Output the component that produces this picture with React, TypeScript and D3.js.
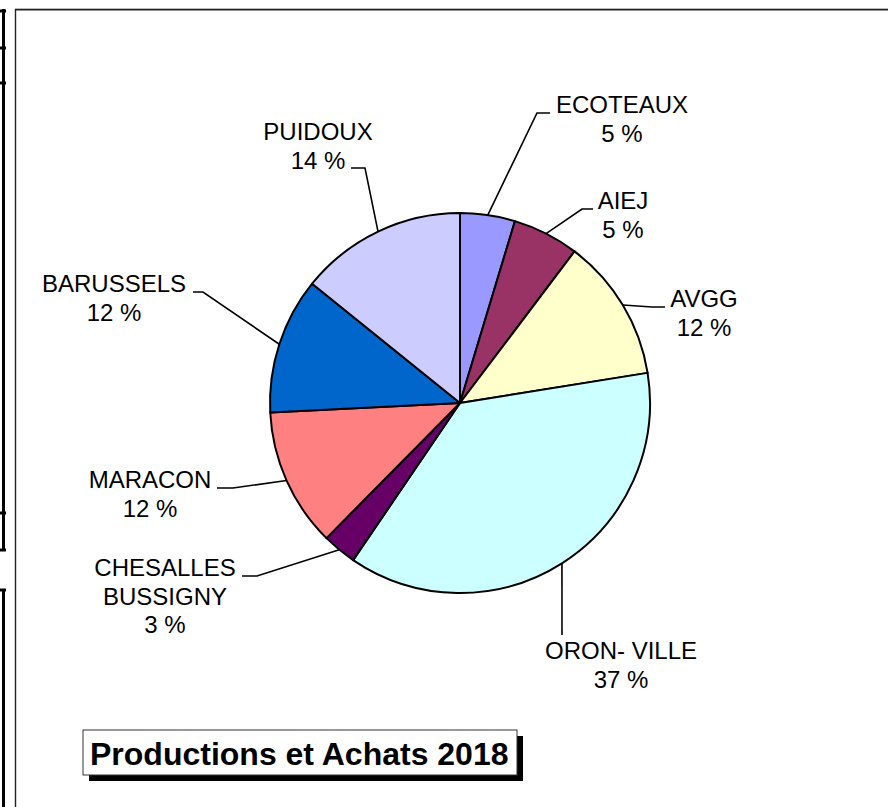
import React from "react";
import * as d3 from "d3";

const categories = ["ECOTEAUX", "AIEJ", "AVGG", "ORON- VILLE", "CHESALLES\nBUSSIGNY", "MARACON", "BARUSSELS", "PUIDOUX"];
const values = [4.67, 5.63, 12.17, 37.05, 2.9, 11.8, 11.6, 14.2];
const percentLabels = ["5 %", "5 %", "12 %", "37 %", "3 %", "12 %", "12 %", "14 %"];
const colors = ["#9999FF", "#993366", "#FFFFCC", "#CCFFFF", "#660066", "#FF8080", "#0066CC", "#CCCCFF"];
const title = "Productions et Achats 2018";

// label layout: elbow point, end point, text center x and first baseline
const labelLayout = [
  { elbow: [537, 113], end: [550, 113], tx: 622, ty: 113 },
  { elbow: [582, 209], end: [593, 209], tx: 623, ty: 209 },
  { elbow: [652, 307], end: [665, 307], tx: 704, ty: 307 },
  { elbow: [562, 635], end: [562, 635], tx: 621, ty: 659 },
  { elbow: [257, 576], end: [242, 576], tx: 165, ty: 576 },
  { elbow: [233, 488], end: [217, 488], tx: 150, ty: 488 },
  { elbow: [203, 292], end: [193, 292], tx: 114, ty: 292 },
  { elbow: [365, 168], end: [351, 168], tx: 318, ty: 140 },
];

export default function App() {
  const W = 888, H = 807;
  const cx = 460, cy = 403, r = 190;
  const data = values.map((v, i) => ({ v, i }));
  const pie = d3.pie<any>().sort(null).value((d: any) => d.v).startAngle(0).endAngle(2 * Math.PI);
  const arcs = pie(data);
  const arc = d3.arc<any>().innerRadius(0).outerRadius(r);
  const lineGen = d3.line();
  const fs = 24, lh = 28.5;

  return (
    <svg width={W} height={H} style={{ position: "absolute", left: 0, top: 0, background: "#fff" }}
      fontFamily="Arial, 'Liberation Sans', sans-serif">
      <rect x={0} y={0} width={W} height={H} fill="#fff" />
      {/* left spreadsheet borders */}
      <g stroke="#000" strokeWidth={3}>
        <line x1={3.5} y1={9} x2={3.5} y2={551} />
        <line x1={3.5} y1={589} x2={3.5} y2={H} />
        {[11, 48, 83, 513, 550, 590].map((y, k) => (
          <line key={k} x1={0} y1={y} x2={6} y2={y} />
        ))}
      </g>
      {/* chart frame */}
      <line x1={15} y1={8.5} x2={W} y2={8.5} stroke="#bbb" strokeWidth={1} />
      <line x1={15.5} y1={9.8} x2={W} y2={9.8} stroke="#222" strokeWidth={1.6} />
      <line x1={15.5} y1={9} x2={15.5} y2={H} stroke="#222" strokeWidth={1.4} />

      <g transform={`translate(${cx},${cy})`}>
        {arcs.map((a, k) => (
          <path key={k} d={arc(a) as string} fill={colors[k]} stroke="#000" strokeWidth={2} strokeLinejoin="round" />
        ))}
      </g>

      {arcs.map((a, k) => {
        const mid = (a.startAngle + a.endAngle) / 2;
        const sx = cx + r * Math.sin(mid);
        const sy = cy - r * Math.cos(mid);
        const L = labelLayout[k];
        const pts: [number, number][] = [[sx, sy], L.elbow as [number, number], L.end as [number, number]];
        const lines = [...categories[k].split("\n"), percentLabels[k]];
        return (
          <g key={k}>
            <path d={lineGen(pts) as string} fill="none" stroke="#000" strokeWidth={1.6} />
            <text x={L.tx} y={L.ty} textAnchor="middle" fontSize={fs} fill="#000">
              {lines.map((t, j) => (
                <tspan key={j} x={L.tx} y={L.ty + j * lh}>{t}</tspan>
              ))}
            </text>
          </g>
        );
      })}

      {/* title box */}
      <rect x={89} y={736} width={434} height={45} fill="#000" />
      <rect x={83} y={730} width={434} height={45} fill="#fff" stroke="#333" strokeWidth={1} />
      <text x={90} y={765} fontSize={32} fontWeight="bold" fill="#000">{title}</text>
    </svg>
  );
}
